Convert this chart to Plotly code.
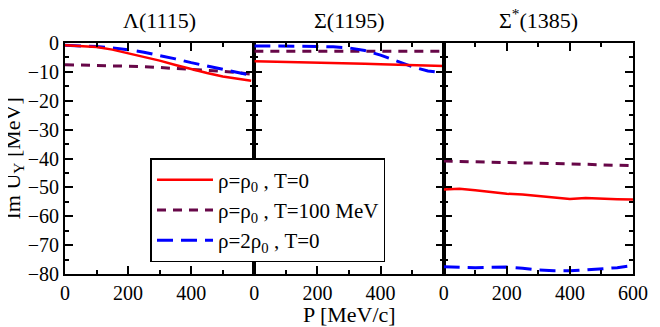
import plotly.graph_objects as go

# momentum grid [MeV/c]
p_grid = [0, 50, 100, 150, 200, 250, 300, 350, 400, 450, 500, 550, 590]
p_grid3 = [0, 50, 100, 150, 200, 250, 300, 350, 400, 450, 500, 550, 600]

# Lambda(1115)
lam_rho0_T0 = [-0.8, -1.0, -1.4, -2.3, -3.5, -4.8, -6.1, -7.6, -9.1, -10.4, -11.6, -12.5, -13.1]
lam_rho0_T100 = [-7.5, -7.6, -7.7, -7.8, -8.0, -8.2, -8.5, -8.8, -9.1, -9.4, -9.8, -10.3, -10.8]
lam_2rho0_T0 = [-0.8, -0.9, -1.2, -1.7, -2.3, -3.2, -4.3, -5.5, -6.8, -8.0, -9.2, -10.3, -11.2]

# Sigma(1195)
sig_rho0_T0 = [-6.3, -6.4, -6.5, -6.6, -6.8, -6.9, -7.1, -7.2, -7.4, -7.6, -7.8, -7.9, -8.0]
sig_rho0_T100 = [-2.9, -2.9, -2.9, -2.9, -2.9, -2.9, -2.9, -2.9, -2.9, -2.9, -2.9, -2.9, -2.9]
sig_2rho0_T0 = [-1.0, -1.0, -1.1, -1.1, -1.2, -1.3, -1.7, -2.6, -4.2, -6.2, -8.2, -9.7, -10.3]

# Sigma*(1385)
sst_rho0_T0 = [-50.7, -50.5, -51.0, -51.6, -52.2, -52.5, -53.0, -53.5, -54.0, -53.7, -54.0, -54.1, -54.2]
sst_rho0_T100 = [-40.9, -41.0, -41.1, -41.2, -41.3, -41.4, -41.6, -41.7, -41.9, -42.0, -42.2, -42.3, -42.5]
sst_2rho0_T0 = [-77.5, -77.7, -77.8, -77.7, -77.6, -78.0, -78.6, -78.9, -78.9, -78.6, -78.2, -77.8, -77.1]

panel_titles = ["\u039b(1115)", "\u03a3(1195)", "\u03a3<sup>*</sup>(1385)"]
legend_names = [
    "\u03c1=\u03c1<sub>0</sub> , T=0",
    "\u03c1=\u03c1<sub>0</sub> , T=100 MeV",
    "\u03c1=2\u03c1<sub>0</sub> , T=0",
]

RED = "#ff0000"
MAROON = "#670748"
BLUE = "#0000ff"
FONT = "Liberation Serif, Times New Roman, serif"

panels = [
    (p_grid, lam_rho0_T0, lam_rho0_T100, lam_2rho0_T0),
    (p_grid3, sig_rho0_T0, sig_rho0_T100, sig_2rho0_T0),
    (p_grid3, sst_rho0_T0, sst_rho0_T100, sst_2rho0_T0),
]

fig = go.Figure()
for i, (px_, red, mar, blu) in enumerate(panels):
    xa = "x" if i == 0 else f"x{i + 1}"
    ya = "y" if i == 0 else f"y{i + 1}"
    fig.add_trace(go.Scatter(x=px_, y=mar, xaxis=xa, yaxis=ya, mode="lines",
                             line=dict(color=MAROON, width=3, dash="9px,7px"),
                             name=legend_names[1], showlegend=False))
    fig.add_trace(go.Scatter(x=px_, y=blu, xaxis=xa, yaxis=ya, mode="lines",
                             line=dict(color=BLUE, width=3, dash="16px,8px"),
                             name=legend_names[2], showlegend=False))
    fig.add_trace(go.Scatter(x=px_, y=red, xaxis=xa, yaxis=ya, mode="lines",
                             line=dict(color=RED, width=2.5),
                             name=legend_names[0], showlegend=False))

# legend-only traces in order
for name, col, dash, w in [(legend_names[0], RED, "solid", 2.5),
                           (legend_names[1], MAROON, "9px,7px", 3),
                           (legend_names[2], BLUE, "16px,8px", 3)]:
    fig.add_trace(go.Scatter(x=[None], y=[None], mode="lines", name=name,
                             line=dict(color=col, width=w, dash=dash)))

w = 1.0 / 3
axis_common = dict(showgrid=False, zeroline=False, showline=True, linecolor="black",
                   linewidth=2, mirror="ticks", ticks="inside", ticklen=8, tickwidth=1.5,
                   tickcolor="black", tickfont=dict(family=FONT, size=20, color="black"))
layout = {}
for i in range(3):
    xk = "xaxis" if i == 0 else f"xaxis{i + 1}"
    yk = "yaxis" if i == 0 else f"yaxis{i + 1}"
    ya = "y" if i == 0 else f"y{i + 1}"
    xa = "x" if i == 0 else f"x{i + 1}"
    layout[xk] = dict(axis_common, domain=[i * w, (i + 1) * w], range=[0, 600], anchor=ya,
                      tickvals=[0, 200, 400, 600] if i == 2 else [0, 200, 400],
                      minor=dict(ticks="inside", ticklen=4, dtick=100, tick0=0,
                                 tickcolor="black", tickwidth=1.5))
    layout[yk] = dict(axis_common, range=[-80, 0], anchor=xa, dtick=10, tick0=0,
                      showticklabels=(i == 0),
                      minor=dict(ticks="inside", ticklen=4, dtick=5, tick0=0,
                                 tickcolor="black", tickwidth=1.5))
fig.update_layout(**layout)

annotations = []
for i, t in enumerate(panel_titles):
    annotations.append(dict(text=t, x=(i + 0.5) * w, y=1.0, xref="paper", yref="paper",
                            xanchor="center", yanchor="bottom", yshift=8, showarrow=False,
                            font=dict(family=FONT, size=22, color="black")))
annotations.append(dict(text="P [MeV/c]", x=0.5, y=0, xref="paper", yref="paper",
                        xanchor="center", yanchor="top", yshift=-26, showarrow=False,
                        font=dict(family=FONT, size=22, color="black")))
annotations.append(dict(text="Im U<sub>Y</sub> [MeV]", x=0, y=0.5, xref="paper", yref="paper",
                        xanchor="right", yanchor="middle", xshift=-36, textangle=-90,
                        showarrow=False, font=dict(family=FONT, size=22, color="black")))

# page is offset by the browser's 8px body margin
fig.update_layout(
    width=652, height=319,
    margin=dict(l=57, r=17, t=35, b=53),
    plot_bgcolor="white", paper_bgcolor="white",
    annotations=annotations,
    legend=dict(x=(152 - 65) / 578, y=(274 - 158) / 231, xanchor="left", yanchor="top",
                bgcolor="white", bordercolor="black", borderwidth=1.5,
                font=dict(family=FONT, size=21, color="black"),
                tracegroupgap=0, itemwidth=56),
)

fig.write_html("out.html")
